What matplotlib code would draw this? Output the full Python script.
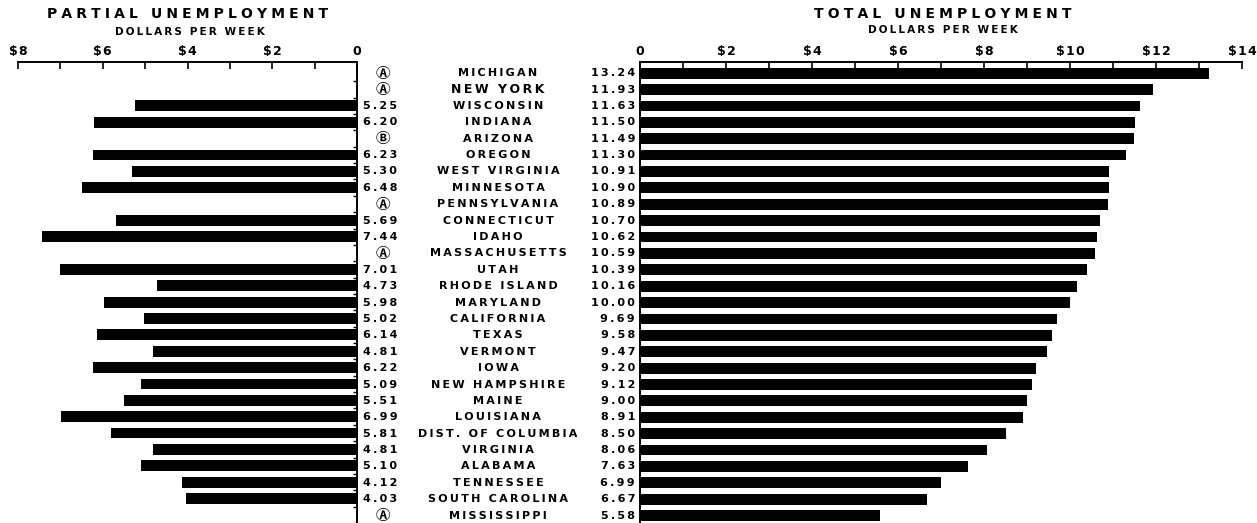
import numpy as np
import matplotlib.pyplot as plt
import matplotlib.transforms as mtransforms

states = ['MICHIGAN', 'NEW YORK', 'WISCONSIN', 'INDIANA', 'ARIZONA', 'OREGON',
          'WEST VIRGINIA', 'MINNESOTA', 'PENNSYLVANIA', 'CONNECTICUT', 'IDAHO',
          'MASSACHUSETTS', 'UTAH', 'RHODE ISLAND', 'MARYLAND', 'CALIFORNIA',
          'TEXAS', 'VERMONT', 'IOWA', 'NEW HAMPSHIRE', 'MAINE', 'LOUISIANA',
          'DIST. OF COLUMBIA', 'VIRGINIA', 'ALABAMA', 'TENNESSEE',
          'SOUTH CAROLINA', 'MISSISSIPPI']
total = [13.24, 11.93, 11.63, 11.50, 11.49, 11.30, 10.91, 10.90, 10.89, 10.70,
         10.62, 10.59, 10.39, 10.16, 10.00, 9.69, 9.58, 9.47, 9.20, 9.12, 9.00,
         8.91, 8.50, 8.06, 7.63, 6.99, 6.67, 5.58]
partial = [None, None, 5.25, 6.20, None, 6.23, 5.30, 6.48, None, 5.69, 7.44,
           None, 7.01, 4.73, 5.98, 5.02, 6.14, 4.81, 6.22, 5.09, 5.51, 6.99,
           5.81, 4.81, 5.10, 4.12, 4.03, None]
notes = ['A', 'A', None, None, 'B', None, None, None, 'A', None, None, 'A',
         None, None, None, None, None, None, None, None, None, None, None,
         None, None, None, None, 'A']
circled = {'A': '\u24b6', 'B': '\u24b7'}

plt.rcParams['font.family'] = ['DejaVu Sans', 'Noto Sans CJK SC']
plt.rcParams['font.weight'] = 'bold'

W, H = 1257, 523
fig = plt.figure(figsize=(W / 100, H / 100), dpi=100)

def box(x0, x1, y0, y1):
    return [x0 / W, 1 - y1 / H, (x1 - x0) / W, (y1 - y0) / H]

def sp(s, gap='\u2009'):
    # wide hand lettering -> pad letters
    return gap.join(s)

n = len(states)
y = np.arange(n)
ylim = (n - 1 + 0.45, -0.68)

axl = fig.add_axes(box(18, 357, 62, 523))
axr = fig.add_axes(box(640, 1242, 62, 523))

pv = np.array([np.nan if v is None else v for v in partial])
axl.barh(y, pv, height=0.66, color='black')
axr.barh(y, total, height=0.66, color='black')

axl.set_xlim(8, 0)
axr.set_xlim(0, 14)
for ax, major, labels in [(axl, [8, 6, 4, 2, 0], ['$8', '$6', '$4', '$2', '0']),
                          (axr, [0, 2, 4, 6, 8, 10, 12, 14],
                           ['0', '$2', '$4', '$6', '$8', '$10', '$12', '$14'])]:
    ax.set_ylim(*ylim)
    ax.xaxis.set_ticks_position('top')
    ax.set_xticks(major)
    ax.set_xticklabels([sp(l, '\u200a') for l in labels], fontsize=9, fontweight='bold')
    ax.set_xticks(np.arange(0, ax.get_xlim()[0] + ax.get_xlim()[1] + 1, 1), minor=True)
    ax.tick_params(axis='x', which='both', direction='in', length=5, width=1.2, pad=3)
    ax.spines['bottom'].set_visible(False)
    ax.spines['top'].set_linewidth(1.4)
    ax.set_facecolor('none')

axl.spines['left'].set_visible(False)
axl.spines['right'].set_linewidth(1.4)
axl.yaxis.set_ticks_position('right')
axl.set_yticks(y + 0.5)
axl.set_yticklabels([])
axl.tick_params(axis='y', direction='in', length=3, width=1)
axr.spines['right'].set_visible(False)
axr.spines['left'].set_linewidth(1.4)
axr.set_yticks([])

# middle column: partial value / footnote, state, total value
tr = mtransforms.blended_transform_factory(fig.transFigure, axr.transData)
for i in range(n):
    if partial[i] is not None:
        fig.text(363 / W, i, sp('%.2f' % partial[i]), transform=tr, ha='left',
                 va='center', fontsize=8)
    else:
        fig.text(383 / W, i, circled[notes[i]], transform=tr, ha='center',
                 va='center', fontsize=10.5)
    fs = 9 if states[i] == 'NEW YORK' else 8
    fig.text(498 / W, i, sp(states[i]), transform=tr, ha='center',
             va='center', fontsize=fs)
    fig.text(635 / W, i, sp('%.2f' % total[i]), transform=tr, ha='right',
             va='center', fontsize=8)

fig.text(188 / W, 1 - 14 / H, sp('PARTIAL UNEMPLOYMENT', '\u2009\u200a'),
         ha='center', va='center', fontsize=10)
fig.text(190 / W, 1 - 32 / H, sp('DOLLARS PER WEEK'), ha='center', va='center',
         fontsize=7.5)
fig.text(943 / W, 1 - 14 / H, sp('TOTAL UNEMPLOYMENT', '\u2009\u200a'),
         ha='center', va='center', fontsize=10)
fig.text(943 / W, 1 - 30 / H, sp('DOLLARS PER WEEK'), ha='center', va='center',
         fontsize=7.5)

fig.savefig('out.png', dpi=100)
